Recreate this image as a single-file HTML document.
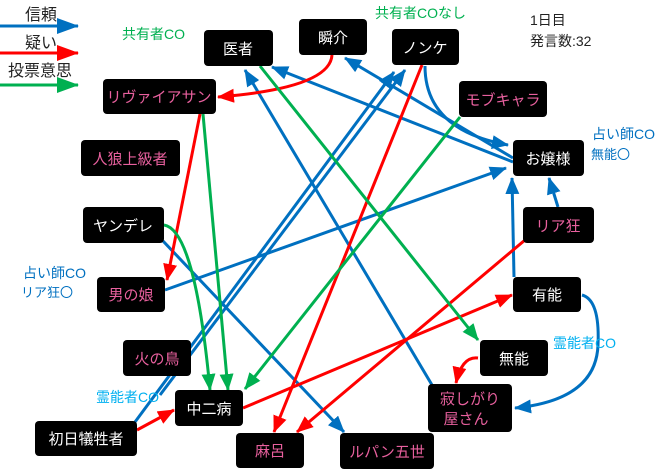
<!DOCTYPE html>
<html><head><meta charset="utf-8"><style>
body{margin:0;background:#fff}
svg{display:block;font-family:"Liberation Sans","Noto Sans CJK JP",sans-serif}
.w{fill:#fff;font-size:15px}
.p{fill:#e8609e;font-size:15px}
</style></head><body>
<svg width="660" height="471" viewBox="0 0 660 471" xmlns="http://www.w3.org/2000/svg">
<defs>
<marker id="b" markerUnits="userSpaceOnUse" markerWidth="17" markerHeight="14" refX="16" refY="7" orient="auto"><path d="M0,0L17,7L0,14z" fill="#0070c0"/></marker>
<marker id="r" markerUnits="userSpaceOnUse" markerWidth="17" markerHeight="14" refX="16" refY="7" orient="auto"><path d="M0,0L17,7L0,14z" fill="#ff0000"/></marker>
<marker id="g" markerUnits="userSpaceOnUse" markerWidth="17" markerHeight="14" refX="16" refY="7" orient="auto"><path d="M0,0L17,7L0,14z" fill="#00b050"/></marker>
<marker id="B" markerUnits="userSpaceOnUse" markerWidth="22" markerHeight="16" refX="21" refY="8" orient="auto"><path d="M0,0L22,8L0,16z" fill="#0070c0"/></marker>
<marker id="R" markerUnits="userSpaceOnUse" markerWidth="22" markerHeight="16" refX="21" refY="8" orient="auto"><path d="M0,0L22,8L0,16z" fill="#ff0000"/></marker>
<marker id="G" markerUnits="userSpaceOnUse" markerWidth="22" markerHeight="16" refX="21" refY="8" orient="auto"><path d="M0,0L22,8L0,16z" fill="#00b050"/></marker>
</defs>
<!-- legend -->
<text x="25" y="20" font-size="16" fill="#222">信頼</text>
<line x1="0" y1="26" x2="78" y2="26" stroke="#0070c0" stroke-width="3" marker-end="url(#B)"/>
<text x="25" y="48" font-size="16" fill="#222">疑い</text>
<line x1="0" y1="53" x2="78" y2="53" stroke="#ff0000" stroke-width="3" marker-end="url(#R)"/>
<text x="8" y="76" font-size="16" fill="#222">投票意思</text>
<line x1="0" y1="85" x2="78" y2="85" stroke="#00b050" stroke-width="3" marker-end="url(#G)"/>

<g fill="none" stroke-width="3">
<!-- blue -->
<line x1="513" y1="162" x2="272" y2="67" stroke="#0070c0" marker-end="url(#b)"/>
<line x1="432" y1="385" x2="245" y2="70" stroke="#0070c0" marker-end="url(#b)"/>
<line x1="513" y1="158" x2="345" y2="58" stroke="#0070c0" marker-end="url(#b)"/>
<line x1="135" y1="422" x2="394" y2="72" stroke="#0070c0" marker-end="url(#b)"/>
<line x1="160" y1="395" x2="405" y2="70" stroke="#0070c0" marker-end="url(#b)"/>
<path d="M425,66 Q425,130 508,145" stroke="#0070c0" marker-end="url(#b)"/>
<line x1="514" y1="277" x2="512" y2="178" stroke="#0070c0" marker-end="url(#b)"/>
<line x1="558" y1="207" x2="549" y2="178" stroke="#0070c0" marker-end="url(#b)"/>
<line x1="165" y1="290" x2="506" y2="168" stroke="#0070c0" marker-end="url(#b)"/>
<line x1="163" y1="241" x2="344" y2="432" stroke="#0070c0" marker-end="url(#b)"/>
<path d="M582,295 Q600,300 598,345 Q596,400 515,408" stroke="#0070c0" marker-end="url(#b)"/>
<!-- red -->
<path d="M332,55 Q330,88 218,97" stroke="#ff0000" marker-end="url(#r)"/>
<line x1="200" y1="114" x2="167" y2="280" stroke="#ff0000" marker-end="url(#r)"/>
<line x1="422" y1="65" x2="274" y2="432" stroke="#ff0000" marker-end="url(#r)"/>
<line x1="525" y1="240" x2="297" y2="432" stroke="#ff0000" marker-end="url(#r)"/>
<line x1="243" y1="408" x2="512" y2="295" stroke="#ff0000" marker-end="url(#r)"/>
<line x1="137" y1="430" x2="174" y2="410" stroke="#ff0000" marker-end="url(#r)"/>
<path d="M478,358 Q462,356 456,383" stroke="#ff0000" marker-end="url(#r)"/>
<!-- green -->
<line x1="203" y1="114" x2="228" y2="390" stroke="#00b050" marker-end="url(#g)"/>
<path d="M164,225 Q195,230 210,390" stroke="#00b050" marker-end="url(#g)"/>
<line x1="460" y1="117" x2="245" y2="389" stroke="#00b050" marker-end="url(#g)"/>
<line x1="260" y1="66" x2="478" y2="340" stroke="#00b050" marker-end="url(#g)"/>
</g>

<g fill="#000">
<rect x="204" y="30" width="69" height="36" rx="4"/>
<rect x="299" y="19" width="68" height="36" rx="4"/>
<rect x="392" y="29" width="67" height="36" rx="4"/>
<rect x="459" y="81" width="88" height="36" rx="4"/>
<rect x="513" y="140" width="71" height="36" rx="4"/>
<rect x="523" y="207" width="71" height="36" rx="4"/>
<rect x="513" y="277" width="68" height="35" rx="4"/>
<rect x="480" y="340" width="68" height="36" rx="4"/>
<rect x="428" y="384" width="84" height="48" rx="4"/>
<rect x="340" y="433" width="94" height="36" rx="4"/>
<rect x="236" y="433" width="68" height="35" rx="4"/>
<rect x="175" y="390" width="68" height="36" rx="4"/>
<rect x="35" y="421" width="102" height="35" rx="4"/>
<rect x="123" y="340" width="68" height="36" rx="4"/>
<rect x="97" y="277" width="68" height="35" rx="4"/>
<rect x="83" y="207" width="81" height="36" rx="4"/>
<rect x="81" y="140" width="99" height="36" rx="4"/>
<rect x="103" y="79" width="113" height="35" rx="4"/>
</g>
<g text-anchor="middle">
<text class="w" x="238" y="54">医者</text>
<text class="w" x="333" y="43">瞬介</text>
<text class="w" x="425" y="53">ノンケ</text>
<text class="p" x="503" y="105">モブキャラ</text>
<text class="w" x="548" y="164">お嬢様</text>
<text class="p" x="558" y="231">リア狂</text>
<text class="w" x="547" y="300">有能</text>
<text class="w" x="514" y="364">無能</text>
<text class="p" x="470" y="404">寂しがり</text>
<text class="p" x="466" y="424">屋さん</text>
<text class="p" x="387" y="457">ルパン五世</text>
<text class="p" x="270" y="456">麻呂</text>
<text class="w" x="209" y="414">中二病</text>
<text class="w" x="86" y="444">初日犠牲者</text>
<text class="p" x="157" y="364">火の鳥</text>
<text class="p" x="131" y="300">男の娘</text>
<text class="w" x="123" y="231">ヤンデレ</text>
<text class="p" x="130" y="164">人狼上級者</text>
<text class="p" x="159" y="102">リヴァイアサン</text>
</g>
<g font-size="14">
<text x="122" y="39" fill="#00b050">共有者CO</text>
<text x="375" y="18" fill="#00b050">共有者COなし</text>
<text x="530" y="25" fill="#222">1日目</text>
<text x="530" y="46" fill="#222">発言数:32</text>
<text x="592" y="139" fill="#0070c0">占い師CO</text>
<text x="591" y="159" font-size="13" fill="#0070c0">無能〇</text>
<text x="23" y="278" fill="#0070c0">占い師CO</text>
<text x="21" y="297" font-size="13" fill="#0070c0">リア狂〇</text>
<text x="96" y="402" fill="#00b0f0">霊能者CO</text>
<text x="553" y="348" fill="#00b0f0">霊能者CO</text>
</g>
</svg>
</body></html>
